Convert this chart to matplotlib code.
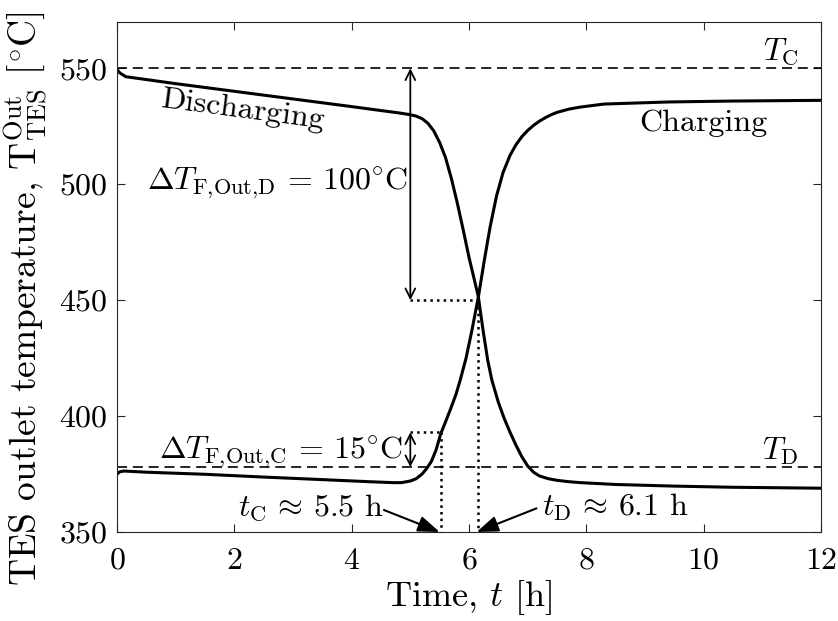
import numpy as np
import matplotlib
matplotlib.use("Agg")
import matplotlib.pyplot as plt

plt.rcParams["font.family"] = "serif"
plt.rcParams["font.serif"] = ["cmr10"]
plt.rcParams["mathtext.fontset"] = "cm"
plt.rcParams["axes.formatter.use_mathtext"] = True
plt.rcParams["font.size"] = 23

# outlet temperature while discharging (hot fluid leaving the store)
t_dis = [0.0, 0.05, 0.15, 1.0, 2.0, 3.0, 4.0, 4.5, 4.8, 5.0, 5.1, 5.2, 5.3,
         5.4, 5.5, 5.6, 5.7, 5.8, 5.9, 6.0, 6.08, 6.16, 6.24, 6.32, 6.39,
         6.5, 6.6, 6.7, 6.8, 6.9, 7.0, 7.1, 7.2, 7.35, 7.5, 7.7, 7.9, 8.5,
         9.5, 10.5, 12.0]
T_dis = [549.5, 548.0, 546.4, 543.4, 540.1, 536.8, 533.5, 531.8, 530.8,
         530.0, 529.4, 528.3, 526.3, 523.0, 518.0, 511.5, 502.5, 492.0,
         480.5, 468.5, 460.0, 451.4, 437.0, 424.0, 415.5, 406.0, 399.0,
         393.0, 387.5, 382.5, 378.5, 375.8, 374.2, 373.0, 372.3, 371.7,
         371.3, 370.5, 369.8, 369.3, 368.9]

# outlet temperature while charging (cold fluid leaving the store)
t_chg = [0.0, 0.05, 0.12, 0.5, 1.5, 2.5, 3.5, 4.3, 4.7, 4.85, 5.0, 5.1, 5.2,
         5.28, 5.36, 5.44, 5.52, 5.6, 5.7, 5.78, 5.85, 5.95, 6.05, 6.16,
         6.26, 6.36, 6.47, 6.58, 6.7, 6.8, 6.9, 7.0, 7.1, 7.2, 7.3, 7.4,
         7.5, 7.7, 7.9, 8.3, 9.4, 10.5, 12.0]
T_chg = [375.0, 376.0, 376.3, 375.8, 374.9, 373.7, 372.6, 371.7, 371.3,
         371.3, 372.0, 373.0, 375.0, 377.4, 380.5, 385.5, 392.5, 397.5,
         404.0, 409.5, 415.5, 425.0, 437.0, 451.4, 467.0, 481.6, 495.0,
         505.0, 512.5, 517.0, 520.5, 523.2, 525.4, 527.2, 528.7, 530.0,
         531.0, 532.4, 533.3, 534.6, 535.5, 535.9, 536.2]

T_C = 550.0            # charging temperature
T_D = 378.0            # discharging temperature
dT_D = 100.0           # allowed outlet drop, discharging
dT_C = 15.0            # allowed outlet rise, charging
t_C = 5.52             # end of charging
t_D = 6.16             # end of discharging
t_mark = 5.0           # where the delta-T arrows sit

fig = plt.figure(figsize=(8.38, 6.21), dpi=100)
ax = fig.add_axes([0.1396, 0.1433, 0.8401, 0.8213])

ax.plot(t_dis, T_dis, color="k", lw=2.2)
ax.plot(t_chg, T_chg, color="k", lw=2.2)

ax.axhline(T_C, color="k", lw=1.2, ls=(0, (6, 3.5)))
ax.axhline(T_D, color="k", lw=1.2, ls=(0, (6, 3.5)))

# delta-T markers
dbl = dict(arrowstyle="<->,head_length=0.5,head_width=0.25", lw=1.3,
           color="k", shrinkA=0, shrinkB=0, mutation_scale=14)
ax.annotate("", xy=(t_mark, T_C), xytext=(t_mark, T_C - dT_D), arrowprops=dbl)
ax.plot([t_mark, t_D], [T_C - dT_D, T_C - dT_D], color="k", lw=1.8, ls=":")
ax.plot([t_D, t_D], [T_C - dT_D, 350], color="k", lw=1.8, ls=":")

ax.annotate("", xy=(t_mark, T_D + dT_C), xytext=(t_mark, T_D), arrowprops=dbl)
ax.plot([t_mark, t_C], [T_D + dT_C, T_D + dT_C], color="k", lw=1.8, ls=":")
ax.plot([t_C, t_C], [T_D + dT_C, 350], color="k", lw=1.8, ls=":")

# end-time pointers
ptr = dict(arrowstyle="-|>,head_length=0.6,head_width=0.22", lw=1.5,
           color="k", shrinkA=0, shrinkB=0, mutation_scale=22)
ax.annotate("", xy=(t_C - 0.02, 350), xytext=(4.55, 359.5), arrowprops=ptr)
ax.annotate("", xy=(t_D - 0.03, 350), xytext=(7.15, 360.2), arrowprops=ptr)

ax.text(2.15, 532.0, "Discharging", rotation=-7.5, ha="center", va="center")
ax.text(10.0, 526.5, "Charging", ha="center", va="center")
ax.text(2.73, 500.5, r"$\Delta T_{\mathrm{F{,}Out{,}D}}\,=\,100^{\circ}\mathrm{C}$",
        ha="center", va="center")
ax.text(4.87, 384.5, r"$\Delta T_{\mathrm{F{,}Out{,}C}}\,=\,15^{\circ}\mathrm{C}$",
        ha="right", va="center")
ax.text(4.54, 360.5, r"$t_{\mathrm{C}}\,\approx\,5.5$ h", ha="right", va="center")
ax.text(7.24, 360.5, r"$t_{\mathrm{D}}\,\approx\,6.1$ h", ha="left", va="center")
ax.text(11.62, 557.0, r"$T_{\mathrm{C}}$", ha="right", va="center")
ax.text(11.62, 385.0, r"$T_{\mathrm{D}}$", ha="right", va="center")

ax.set_xlim(0, 12)
ax.set_ylim(350, 570)
ax.set_xticks([0, 2, 4, 6, 8, 10, 12])
ax.set_yticks([350, 400, 450, 500, 550])
ax.tick_params(direction="in", top=True, right=True, length=6, width=0.8,
               color="0.15")
ax.tick_params(axis="x", pad=11)
ax.tick_params(axis="y", pad=7)
for s in ax.spines.values():
    s.set_color("0.15")
    s.set_linewidth(0.8)

ax.set_xlabel(r"Time, $t$ [h]", fontsize=26, labelpad=2)
ax.set_ylabel(r"TES outlet temperature, $\mathrm{T}^{\mathrm{Out}}_{\mathrm{TES}}$ [$^{\circ}$C]",
              fontsize=27)
ax.yaxis.set_label_coords(-0.095, 0.457)

fig.savefig("out.png", dpi=100)
